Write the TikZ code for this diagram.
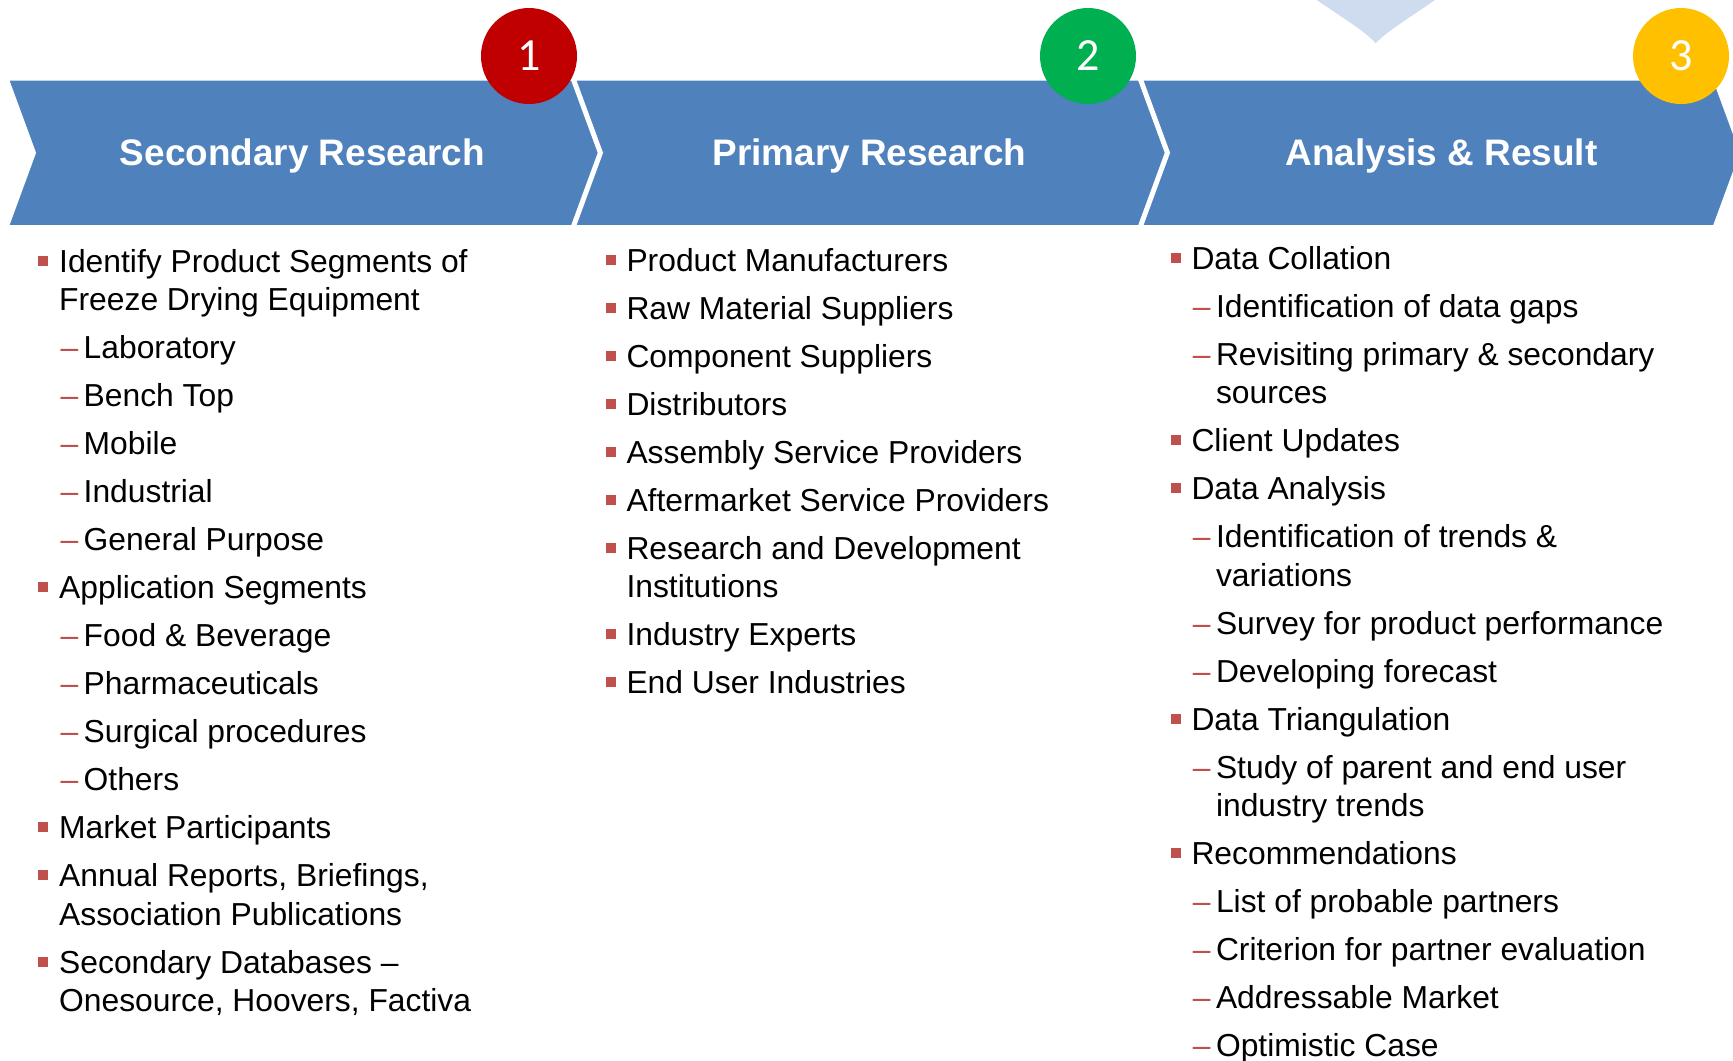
\documentclass[tikz,border=0pt]{standalone}
\usepackage{fontspec}
\setmainfont{Liberation Sans}
\newfontfamily\numfont{Carlito}
\usepackage{tikz}

\definecolor{chevblue}{RGB}{79,129,189}
\definecolor{bulletred}{RGB}{192,80,77}
\definecolor{stepred}{RGB}{192,0,0}
\definecolor{stepgreen}{RGB}{0,176,80}
\definecolor{stepgold}{RGB}{255,192,0}
\definecolor{capblue}{RGB}{207,219,239}

\newcommand{\bodyfont}{\fontsize{9.05pt}{10.8pt}\selectfont}
\newcommand{\sqbullet}{\llap{\textcolor{bulletred}{\rule[0.65mm]{1.0mm}{1.0mm}}\hspace{1.1mm}}}
\newcommand{\subdash}{\llap{\textcolor{bulletred}{–}\hspace{0.55mm}}}

\tikzset{
  chevron/.style={fill=chevblue, draw=white, line width=0.5mm},
  stepnum/.style={circle, minimum size=9.6mm, inner sep=0pt, text=white,
    font=\numfont\fontsize{13.1pt}{15pt}\selectfont},
  steptitle/.style={anchor=base, inner sep=0pt, text=white,
    font=\fontsize{10.5pt}{12.6pt}\selectfont\bfseries},
  mainpt/.style={anchor=base west, inner sep=0pt, font=\bodyfont, execute at begin node=\sqbullet},
  subpt/.style={anchor=base west, inner sep=0pt, font=\bodyfont, execute at begin node=\subdash},
  contpt/.style={anchor=base west, inner sep=0pt, font=\bodyfont},
}

\begin{document}
\begin{tikzpicture}[x=0.1mm, y=-0.1mm]
  \useasboundingbox (0,0) rectangle (1733,1060);

  % light pointer at the top
  \fill[capblue] (1316.7,0) .. controls (1346,20) and (1366,32) .. (1375.7,43.3)
    .. controls (1386,32) and (1406,20) .. (1435,0) -- cycle;

  % Chevrons
  \draw[chevron] (6,78.2) -- (581,78.2) -- (608.4,152.8) -- (581,227.5) -- (6,227.5) -- (33.4,152.8) -- cycle;
  \draw[chevron] (573,78.2) -- (1148,78.2) -- (1175.4,152.8) -- (1148,227.5) -- (573,227.5) -- (600.4,152.8) -- cycle;
  \draw[chevron] (1140,78.2) -- (1715,78.2) -- (1742.4,152.8) -- (1715,227.5) -- (1140,227.5) -- (1167.4,152.8) -- cycle;

  \node[steptitle] (sec) at (302.5,165.7) {Secondary Research};
  \node[steptitle] (pri) at (869.5,165.7) {Primary Research};
  \node[steptitle] (ana) at (1441.5,165.7) {Analysis \& Result};

  % Step numbers
  \node[stepnum, fill=stepred] (num1) at (529,56) {1};
  \node[stepnum, fill=stepgreen] (num2) at (1088,56) {2};
  \node[stepnum, fill=stepgold] (num3) at (1681,56) {3};

  % Secondary Research (left column)
  \node[mainpt] (sr1) at (58.5,272) {Identify Product Segments of};
  \node[contpt] (sr1b) at (58.5,310.5) {Freeze Drying Equipment};
  \node[subpt] (sr1a) at (83,358.5) {Laboratory};
  \node[subpt] (sr1c) at (83,406.5) {Bench Top};
  \node[subpt] (sr1d) at (83,454.5) {Mobile};
  \node[subpt] (sr1e) at (83,502.5) {Industrial};
  \node[subpt] (sr1f) at (83,550.5) {General Purpose};
  \node[mainpt] (sr2) at (58.5,598.5) {Application Segments};
  \node[subpt] (sr2a) at (83,646.5) {Food \& Beverage};
  \node[subpt] (sr2b) at (83,694.5) {Pharmaceuticals};
  \node[subpt] (sr2c) at (83,742.5) {Surgical procedures};
  \node[subpt] (sr2d) at (83,790.5) {Others};
  \node[mainpt] (sr3) at (58.5,838.5) {Market Participants};
  \node[mainpt] (sr4) at (58.5,886.5) {Annual Reports, Briefings,};
  \node[contpt] (sr4b) at (58.5,925) {Association Publications};
  \node[mainpt] (sr5) at (58.5,973) {Secondary Databases –};
  \node[contpt] (sr5b) at (58.5,1011.5) {Onesource, Hoovers, Factiva};

  % Primary Research (middle column)
  \node[mainpt] (pr1) at (625.8,271.7) {Product Manufacturers};
  \node[mainpt] (pr2) at (625.8,319.5) {Raw Material Suppliers};
  \node[mainpt] (pr3) at (625.8,367.3) {Component Suppliers};
  \node[mainpt] (pr4) at (625.8,415) {Distributors};
  \node[mainpt] (pr5) at (625.8,463) {Assembly Service Providers};
  \node[mainpt] (pr6) at (625.8,511) {Aftermarket Service Providers};
  \node[mainpt] (pr7) at (625.8,559) {Research and Development};
  \node[contpt] (pr7b) at (625.8,597.5) {Institutions};
  \node[mainpt] (pr8) at (625.8,645.5) {Industry Experts};
  \node[mainpt] (pr9) at (625.8,693.5) {End User Industries};

  % Analysis & Result (right column)
  \node[mainpt] (ar1) at (1190.8,269.3) {Data Collation};
  \node[subpt] (ar1a) at (1215.3,317.3) {Identification of data gaps};
  \node[subpt] (ar1b) at (1215.3,365) {Revisiting primary \& secondary};
  \node[contpt] (ar1c) at (1215.3,403) {sources};
  \node[mainpt] (ar2) at (1190.8,451.5) {Client Updates};
  \node[mainpt] (ar3) at (1190.8,499.5) {Data Analysis};
  \node[subpt] (ar3a) at (1215.3,547.5) {Identification of trends \&};
  \node[contpt] (ar3b) at (1215.3,586) {variations};
  \node[subpt] (ar3c) at (1215.3,634) {Survey for product performance};
  \node[subpt] (ar3d) at (1215.3,682) {Developing forecast};
  \node[mainpt] (ar4) at (1190.8,730) {Data Triangulation};
  \node[subpt] (ar4a) at (1215.3,778) {Study of parent and end user};
  \node[contpt] (ar4b) at (1215.3,816.5) {industry trends};
  \node[mainpt] (ar5) at (1190.8,864.5) {Recommendations};
  \node[subpt] (ar5a) at (1215.3,912.5) {List of probable partners};
  \node[subpt] (ar5b) at (1215.3,960.5) {Criterion for partner evaluation};
  \node[subpt] (ar5c) at (1215.3,1008.5) {Addressable Market};
  \node[subpt] (ar5d) at (1215.3,1056.5) {Optimistic Case};

\end{tikzpicture}
\end{document}
